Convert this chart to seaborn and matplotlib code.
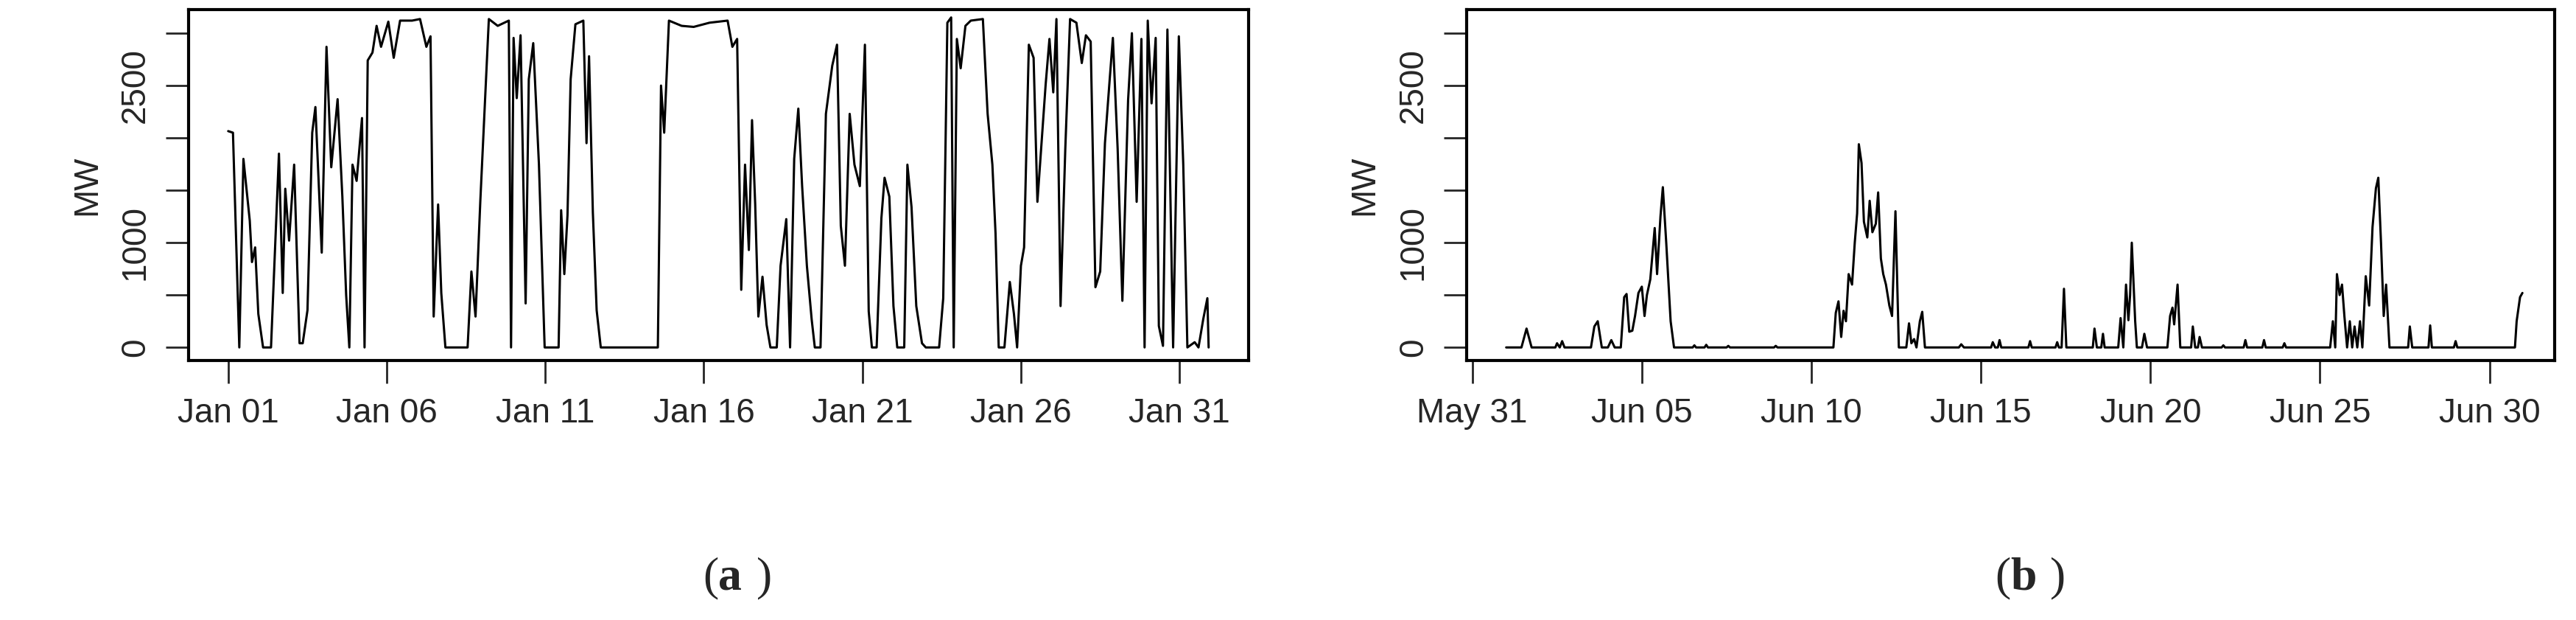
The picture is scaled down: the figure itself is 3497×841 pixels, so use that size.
import numpy as np
import pandas as pd
import matplotlib
matplotlib.use("Agg")
import matplotlib.pyplot as plt
import matplotlib.dates as mdates
import seaborn as sns

# ---- data: (days since start of month, MW) ----
jan_days = [0.0, 0.15, 0.35, 0.48, 0.68, 0.75, 0.85, 0.95, 1.1, 1.35, 1.6, 1.72, 1.8, 1.92, 2.08, 2.25, 2.35,
            2.5, 2.65, 2.75, 2.95, 3.1, 3.25, 3.45, 3.6, 3.72, 3.82, 3.92, 4.05, 4.22, 4.3, 4.4, 4.55, 4.68,
            4.82, 5.05, 5.22, 5.42, 5.8, 6.05, 6.25, 6.38, 6.48, 6.62, 6.72, 6.85, 7.55, 7.67, 7.8, 7.95,
            8.1, 8.22, 8.5, 8.85, 8.92, 9.0, 9.1, 9.22, 9.38, 9.48, 9.62, 9.8, 9.98, 10.42, 10.5, 10.6,
            10.7, 10.8, 10.95, 11.2, 11.3, 11.38, 11.5, 11.62, 11.75, 13.55, 13.65, 13.75, 13.9, 14.3,
            14.68, 15.18, 15.75, 15.9, 16.05, 16.18, 16.3, 16.42, 16.52, 16.62, 16.72, 16.85, 16.98, 17.1,
            17.3, 17.42, 17.6, 17.72, 17.85, 17.98, 18.1, 18.25, 18.4, 18.5, 18.68, 18.85, 19.05, 19.2,
            19.32, 19.45, 19.6, 19.75, 19.92, 20.08, 20.2, 20.3, 20.45, 20.6, 20.7, 20.85, 20.98, 21.1,
            21.32, 21.42, 21.55, 21.7, 21.88, 22.0, 22.42, 22.55, 22.68, 22.8, 22.88, 22.98, 23.1, 23.25,
            23.42, 23.8, 23.95, 24.1, 24.2, 24.3, 24.48, 24.65, 24.78, 24.88, 25.0, 25.1, 25.25, 25.4,
            25.52, 25.65, 25.78, 25.9, 26.02, 26.12, 26.25, 26.4, 26.55, 26.75, 26.92, 27.05, 27.2, 27.35,
            27.5, 27.65, 27.8, 27.9, 28.05, 28.2, 28.38, 28.5, 28.65, 28.8, 28.9, 29.0, 29.12, 29.25,
            29.35, 29.48, 29.62, 29.8, 29.98, 30.12, 30.25, 30.48, 30.6, 30.75, 30.88, 30.92]
jan_mw = [2065, 2050, 0, 1800, 1210, 815, 955, 320, 0, 0, 1850, 520, 1515, 1020, 1745, 40, 40,
          355, 2050, 2295, 905, 2870, 1720, 2370, 1440, 500, 0, 1745, 1590, 2190, 0, 2740, 2815, 3070,
          2870, 3110, 2765, 3120, 3120, 3135, 2870, 2970, 295, 1365, 520, 0, 0, 725, 295, 1390,
          2360, 3135, 3070, 3120, 0, 2955, 2380, 2980, 420, 2560, 2905, 1745, 0, 0, 1310, 700,
          1260, 2560, 3085, 3120, 1950, 2780, 1290, 355, 0, 0, 2500, 2050, 3120, 3070,
          3060, 3100, 3120, 2870, 2945, 550, 1745, 930, 2170, 1365, 295, 675, 215, 0,
          0, 780, 1225, 0, 1800, 2280, 1540, 780, 270, 0, 0, 2230, 2690, 2890,
          1160, 780, 2230, 1745, 1540, 2890, 345, 0, 0, 1235, 1620, 1440, 395, 0,
          0, 1745, 1340, 395, 40, 0, 0, 470, 3100, 3150, 0, 2945, 2665, 3070,
          3120, 3135, 2230, 1745, 1085, 0, 0, 625, 320, 0, 780, 955, 2890, 2765,
          1390, 1950, 2510, 2945, 2435, 3135, 395, 1900, 3135, 3100, 2715, 2980, 2920, 575,
          725, 1950, 2560, 2955, 1900, 445, 2360, 3000, 1390, 2945, 0, 3120, 2330, 2955,
          205, 15, 3035, 0, 2970, 1745, 0, 50, 0, 270, 470, 0]

jun_days = [0.0, 0.45, 0.6, 0.75, 1.45, 1.5, 1.58, 1.65, 1.72, 2.5, 2.6, 2.7, 2.82, 3.0, 3.1, 3.2, 3.38,
            3.48, 3.55, 3.63, 3.72, 3.8, 3.9, 4.0, 4.08, 4.15, 4.25, 4.38, 4.45, 4.55, 4.62, 4.72, 4.85,
            4.95, 5.5, 5.55, 5.6, 5.85, 5.9, 5.95, 6.5, 6.55, 6.6, 7.9, 7.95, 8.0, 9.65, 9.72, 9.8, 9.88,
            9.95, 10.02, 10.1, 10.2, 10.28, 10.35, 10.4, 10.48, 10.55, 10.65, 10.72, 10.8, 10.9, 10.97,
            11.05, 11.12, 11.2, 11.3, 11.38, 11.48, 11.58, 11.8, 11.88, 11.95, 12.03, 12.1, 12.2, 12.27,
            12.35, 13.35, 13.42, 13.5, 14.3, 14.35, 14.42, 14.5, 14.55, 14.6, 15.4, 15.45, 15.5, 16.2,
            16.25, 16.3, 16.38, 16.45, 16.52, 17.3, 17.35, 17.42, 17.55, 17.6, 17.65, 18.05, 18.12, 18.2,
            18.28, 18.35, 18.4, 18.45, 18.55, 18.6, 18.75, 18.82, 18.9, 19.5, 19.58, 19.65, 19.7, 19.8,
            19.88, 20.2, 20.25, 20.32, 20.4, 20.45, 20.52, 21.1, 21.15, 21.2, 21.75, 21.8, 21.85, 22.3,
            22.35, 22.4, 22.9, 22.95, 23.0, 24.3, 24.38, 24.45, 24.5, 24.58, 24.65, 24.72, 24.8, 24.88,
            24.95, 25.02, 25.1, 25.18, 25.25, 25.35, 25.45, 25.55, 25.65, 25.72, 25.8, 25.88, 25.95,
            26.05, 26.6, 26.65, 26.72, 27.2, 27.25, 27.3, 27.95, 28.0, 28.05, 29.75, 29.8, 29.9, 29.97]
jun_mw = [0, 0, 180, 0, 0, 40, 0, 60, 0, 0, 200, 250, 0, 0, 70, 0, 0,
          480, 510, 150, 160, 300, 520, 580, 300, 500, 650, 1140, 700, 1250, 1530, 1000, 250,
          0, 0, 20, 0, 0, 25, 0, 0, 15, 0, 0, 15, 0, 0, 330, 440, 100,
          350, 250, 700, 600, 1000, 1280, 1940, 1760, 1200, 1050, 1400, 1100, 1180, 1480,
          850, 700, 600, 400, 300, 1300, 0, 0, 230, 40, 80, 0, 250, 340,
          0, 0, 30, 0, 0, 50, 0, 0, 70, 0, 0, 60, 0, 0,
          50, 0, 0, 560, 0, 0, 180, 0, 0, 130, 0, 0, 280, 0,
          600, 260, 500, 1000, 250, 0, 0, 130, 0, 0, 300, 380, 220, 600,
          0, 0, 200, 0, 0, 100, 0, 0, 20, 0, 0, 70, 0, 0,
          70, 0, 0, 40, 0, 0, 250, 0, 700, 500, 600, 300, 0, 250,
          0, 200, 0, 250, 0, 680, 400, 1150, 1520, 1620, 1000, 300, 600,
          0, 0, 200, 0, 0, 210, 0, 0, 60, 0, 0, 250, 480, 520]

y_ticks = [0, 500, 1000, 1500, 2000, 2500, 3000]
y_labels = ["0", "", "1000", "", "", "2500", ""]

jan = pd.DataFrame({"time": pd.Timestamp("2015-01-01") + pd.to_timedelta(jan_days, unit="D"), "MW": jan_mw})
jun = pd.DataFrame({"time": pd.Timestamp("2015-06-01") + pd.to_timedelta(jun_days, unit="D"), "MW": jun_mw})

sns.set_style("white")
plt.rcParams["font.family"] = ["Liberation Sans", "DejaVu Sans"]

fig = plt.figure(figsize=(34.97, 8.41), dpi=100)
ax_a = fig.add_axes([0.0732, 0.4185, 0.4115, 0.566])
ax_b = fig.add_axes([0.5693, 0.4185, 0.4224, 0.566])

panels = [
    (ax_a, jan, pd.Timestamp("2015-01-01"), (-1.25, 32.18), "(a)"),
    (ax_b, jun, pd.Timestamp("2015-05-31"), (-0.17, 31.92), "(b)"),
]

for ax, df, tick0, (x0, x1), tag in panels:
    sns.lineplot(data=df, x="time", y="MW", color="black", linewidth=2.2, ax=ax)
    origin = df["time"].iloc[0].normalize()
    if tag == "(b)":
        origin = pd.Timestamp("2015-05-31")
    ax.set_xlim(origin + pd.Timedelta(days=x0), origin + pd.Timedelta(days=x1))
    ax.set_ylim(-125, 3225)
    ax.set_xticks([tick0 + pd.Timedelta(days=5 * i) for i in range(7)])
    ax.xaxis.set_major_formatter(mdates.DateFormatter("%b %d"))
    ax.set_yticks(y_ticks)
    ax.set_yticklabels(y_labels, rotation=90, va="center")
    ax.tick_params(axis="both", direction="out", length=22, width=2, labelsize=33, pad=14,
                   left=True, bottom=True)
    ax.set_xlabel("")
    ax.set_ylabel("MW", fontsize=33, labelpad=16)
    for s in ax.spines.values():
        s.set_linewidth(3)
        s.set_color("black")
    ax.grid(False)
    fig.text((ax.get_position().x0 + ax.get_position().x1) / 2, 0.06, "", ha="center")
    ax.text(0.5, -0.62, "(", transform=ax.transAxes, ha="right", va="center",
            fontsize=46, family=["Liberation Serif"])
    ax.text(0.5, -0.62, tag[1], transform=ax.transAxes, ha="left", va="center",
            fontsize=46, fontweight="bold", family=["Liberation Serif"])

# closing parentheses placed after the bold letter
for ax, tag in [(ax_a, "a"), (ax_b, "b")]:
    ax.text(0.5 + 0.036, -0.62, ")", transform=ax.transAxes, ha="left", va="center",
            fontsize=46, family=["Liberation Serif"])

fig.savefig("out.png", dpi=100)
